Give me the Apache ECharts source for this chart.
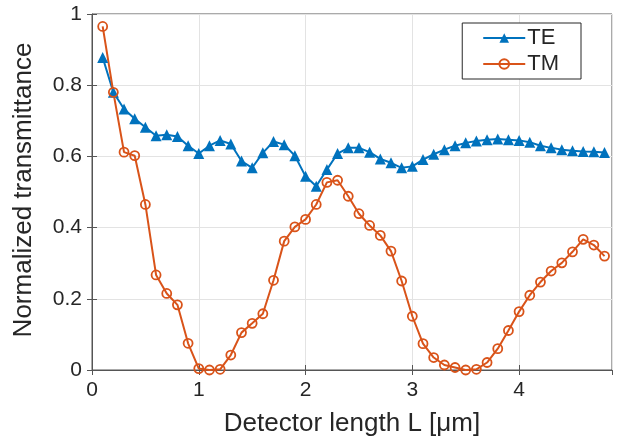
<!DOCTYPE html>
<html><head><meta charset="utf-8">
<script src="https://cdn.jsdelivr.net/npm/echarts@6/dist/echarts.min.js"></script>
<style>html,body{margin:0;padding:0;background:#fff}#c{width:620px;height:442px}</style>
</head><body><div id="c"></div>
<script>
var lengths = [0.1,0.2,0.3,0.4,0.5,0.6,0.7,0.8,0.9,1.0,1.1,1.2,1.3,1.4,1.5,1.6,1.7,1.8,1.9,2.0,2.1,2.2,2.3,2.4,2.5,2.6,2.7,2.8,2.9,3.0,3.1,3.2,3.3,3.4,3.5,3.6,3.7,3.8,3.9,4.0,4.1,4.2,4.3,4.4,4.5,4.6,4.7,4.8];
var teValues = [0.878,0.780,0.733,0.706,0.682,0.658,0.661,0.656,0.630,0.608,0.630,0.645,0.635,0.587,0.568,0.610,0.642,0.633,0.602,0.544,0.516,0.563,0.608,0.624,0.624,0.612,0.593,0.582,0.568,0.572,0.591,0.606,0.619,0.630,0.638,0.643,0.647,0.649,0.647,0.645,0.640,0.630,0.624,0.619,0.616,0.614,0.613,0.611];
var tmValues = [0.965,0.780,0.612,0.602,0.465,0.267,0.215,0.183,0.075,0.004,0.000,0.002,0.042,0.105,0.131,0.158,0.252,0.362,0.402,0.423,0.465,0.527,0.533,0.488,0.439,0.406,0.378,0.334,0.250,0.151,0.074,0.035,0.014,0.007,0.000,0.002,0.021,0.060,0.111,0.164,0.210,0.247,0.278,0.301,0.332,0.367,0.351,0.320];
var xTicks = [0,1,2,3,4];
var yTicks = [0,0.2,0.4,0.6,0.8,1];
var seriesNames = ['TE','TM'];
var xTitle = 'Detector length L [\u03bcm]';
var yTitle = 'Normalized transmittance';

function pairs(v){ return lengths.map(function(x,i){ return [x, v[i]]; }); }
var FONT = 'Liberation Sans, Arial, sans-serif';
var TXT = '#262626';
var AX = '#555555';
var chart = echarts.init(document.getElementById('c'), null, {renderer:'canvas'});
chart.setOption({
  animation:false,
  backgroundColor:'#ffffff',
  textStyle:{fontFamily:FONT},
  grid:{left:92, top:14, right:8, bottom:71, show:true, borderColor:AX, borderWidth:1, containLabel:false},
  legend:{
    data:seriesNames, orient:'vertical', right:39, top:23,
    padding:[4,22,4,20], borderColor:TXT, borderWidth:1, backgroundColor:'#fff',
    itemGap:4, itemWidth:42, itemHeight:12,
    textStyle:{fontSize:22, color:TXT, fontFamily:FONT, padding:[0,0,0,-3]}
  },
  graphic:[{
    type:'text', x:24, y:190, rotation:Math.PI/2,
    style:{text:yTitle, fontSize:26, fill:TXT, fontFamily:FONT, align:'center', verticalAlign:'middle'}
  }],
  xAxis:[{
    type:'value', min:0, max:4.87, interval:1,
    name:xTitle, nameLocation:'middle', nameGap:41,
    nameTextStyle:{fontSize:26, color:TXT, fontFamily:FONT},
    axisLine:{show:true, lineStyle:{color:AX, width:1}},
    axisTick:{show:true, inside:true, length:5, lineStyle:{color:AX}},
    axisLabel:{fontSize:21, color:TXT, margin:10, showMaxLabel:false, fontFamily:FONT,
      formatter:function(v){ return xTicks.indexOf(v)>=0 ? String(v) : ''; }},
    splitLine:{show:true, lineStyle:{color:'#e3e3e3', width:1}}
  },{
    type:'value', min:0, max:4.87, interval:1, position:'top',
    axisLine:{show:false}, axisTick:{show:true, inside:true, length:5, lineStyle:{color:AX}},
    axisLabel:{show:false}, splitLine:{show:false}
  }],
  yAxis:[{
    type:'value', min:0, max:1, interval:0.2,
    axisLine:{show:true, lineStyle:{color:AX, width:1}},
    axisTick:{show:true, inside:true, length:5, lineStyle:{color:AX}},
    axisLabel:{fontSize:21, color:TXT, margin:10, fontFamily:FONT,
      formatter:function(v){ var r=Math.round(v*10)/10; return yTicks.indexOf(r)>=0 ? String(r) : ''; }},
    splitLine:{show:true, lineStyle:{color:'#e3e3e3', width:1}}
  },{
    type:'value', min:0, max:1, interval:0.2, position:'right',
    axisLine:{show:false}, axisTick:{show:true, inside:true, length:5, lineStyle:{color:AX}},
    axisLabel:{show:false}, splitLine:{show:false}
  }],
  series:[{
    name:'TE', type:'line', data:pairs(teValues),
    symbol:'triangle', symbolSize:11,
    lineStyle:{color:'#0072BD', width:2},
    itemStyle:{color:'#0072BD'}
  },{
    name:'TM', type:'line', data:pairs(tmValues),
    symbol:'circle', symbolSize:9,
    lineStyle:{color:'#D95319', width:2},
    itemStyle:{color:'rgba(0,0,0,0)', borderColor:'#D95319', borderWidth:1.8}
  }]
});
</script></body></html>
